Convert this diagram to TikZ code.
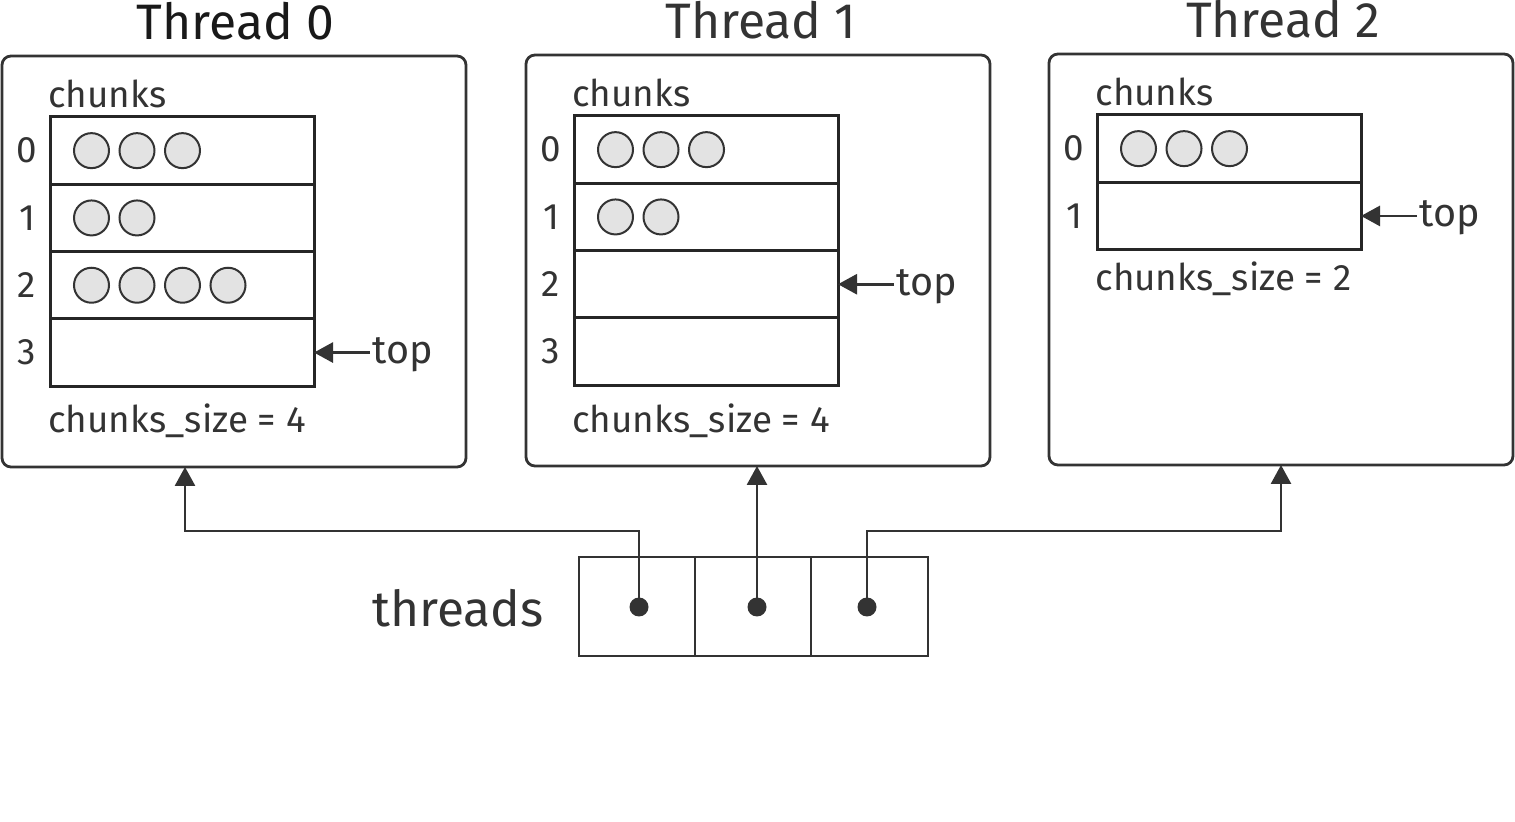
\documentclass[tikz,border=0pt]{standalone}
\usepackage{fontspec}
\setmainfont{Fira Sans}
\usetikzlibrary{arrows.meta,calc}
\definecolor{ink}{HTML}{333333}
\definecolor{ballgray}{HTML}{E3E3E3}
\begin{document}
\begin{tikzpicture}[x=0.5pt,y=-0.5pt,
  panel/.style={draw=ink, line width=1.4pt, rounded corners=4.5pt, minimum width=232pt, minimum height=205.5pt, inner sep=0pt, outer sep=0pt},
  cell/.style={draw=black!85, line width=1.5pt, minimum width=132pt, minimum height=33.65pt, anchor=north west, inner sep=0pt, outer sep=0pt},
  acell/.style={draw=ink, line width=1.4pt, minimum width=58pt, minimum height=49.5pt, anchor=north west, inner sep=0pt, outer sep=0pt},
  ball/.style={circle, draw=ink, fill=ballgray, line width=1pt, minimum size=17.5pt, inner sep=0pt},
  lbl/.style={font=\fontsize{18.4}{22}\selectfont, text=ink, inner sep=0pt},
  toplbl/.style={font=\fontsize{19.8}{24}\selectfont, text=ink, inner sep=0pt, anchor=base west},
  title/.style={font=\fontsize{24.9}{30}\selectfont, inner sep=0pt, anchor=base},
  ptr/.style={-{Triangle[length=9.5pt,width=10pt]}, draw=ink, line width=1.4pt},
  dot/.style={circle, fill=ink, minimum size=9.5pt, inner sep=0pt}]
\useasboundingbox (0,0) rectangle (1515,822);

% ---------------- Thread 0 ----------------
\node[title, text=black!90] (t0) at (235.5,40) {Thread 0};
\node[panel] (box0) at (234,261.5) {};
\node[cell] (a0) at (50,117) {};
\node[cell] (a1) at (a0.south west) {};
\node[cell] (a2) at (a1.south west) {};
\node[cell] (a3) at (a2.south west) {};
\node[lbl, anchor=base west] (a-ch) at ($(a0.north west)+(-2,-9)$) {chunks};
\node[lbl] (a-n0) at ($(a0.west)+(-23,0)$) {0};
\node[lbl] (a-n1) at ($(a1.west)+(-23,0)$) {1};
\node[lbl] (a-n2) at ($(a2.west)+(-23,0)$) {2};
\node[lbl] (a-n3) at ($(a3.west)+(-23,0)$) {3};
\foreach \k in {0,1,2}{\node[ball] (a0b\k) at ($(a0.west)+(41.5+45.5*\k,0)$) {};}
\foreach \k in {0,1}{\node[ball] (a1b\k) at ($(a1.west)+(41.5+45.5*\k,0)$) {};}
\foreach \k in {0,1,2,3}{\node[ball] (a2b\k) at ($(a2.west)+(41.5+45.5*\k,0)$) {};}
\coordinate (a-top) at ($(a3.east)+(56,0)$);
\draw[ptr] (a-top) -- (a3.east);
\node[toplbl] (a-toplbl) at ($(a-top)+(2,11)$) {top};
\node[lbl, anchor=base west] (a-size) at ($(a3.south west)+(-2,46)$) {chunks\_size = 4};

% ---------------- Thread 1 ----------------
\node[title, text=ink] (t1) at (761,39) {Thread 1};
\node[panel] (box1) at (758,260.5) {};
\node[cell] (b0) at (574,116) {};
\node[cell] (b1) at (b0.south west) {};
\node[cell] (b2) at (b1.south west) {};
\node[cell] (b3) at (b2.south west) {};
\node[lbl, anchor=base west] (b-ch) at ($(b0.north west)+(-2,-9)$) {chunks};
\node[lbl] (b-n0) at ($(b0.west)+(-23,0)$) {0};
\node[lbl] (b-n1) at ($(b1.west)+(-23,0)$) {1};
\node[lbl] (b-n2) at ($(b2.west)+(-23,0)$) {2};
\node[lbl] (b-n3) at ($(b3.west)+(-23,0)$) {3};
\foreach \k in {0,1,2}{\node[ball] (b0b\k) at ($(b0.west)+(41.5+45.5*\k,0)$) {};}
\foreach \k in {0,1}{\node[ball] (b1b\k) at ($(b1.west)+(41.5+45.5*\k,0)$) {};}
\coordinate (b-top) at ($(b2.east)+(56,0)$);
\draw[ptr] (b-top) -- (b2.east);
\node[toplbl] (b-toplbl) at ($(b-top)+(2,11)$) {top};
\node[lbl, anchor=base west] (b-size) at ($(b3.south west)+(-2,47)$) {chunks\_size = 4};

% ---------------- Thread 2 ----------------
\node[title, text=ink] (t2) at (1283,38) {Thread 2};
\node[panel] (box2) at (1281,259.5) {};
\node[cell] (c0) at (1097,115) {};
\node[cell] (c1) at (c0.south west) {};
\node[lbl, anchor=base west] (c-ch) at ($(c0.north west)+(-2,-9)$) {chunks};
\node[lbl] (c-n0) at ($(c0.west)+(-23,0)$) {0};
\node[lbl] (c-n1) at ($(c1.west)+(-23,0)$) {1};
\foreach \k in {0,1,2}{\node[ball] (c0b\k) at ($(c0.west)+(41.5+45.5*\k,0)$) {};}
\coordinate (c-top) at ($(c1.east)+(56,0)$);
\draw[ptr] (c-top) -- (c1.east);
\node[toplbl] (c-toplbl) at ($(c-top)+(2,11)$) {top};
\node[lbl, anchor=base west] (c-size) at ($(c1.south west)+(-2,41)$) {chunks\_size = 2};

% ---------------- threads array ----------------
\node[font=\fontsize{24.8}{30}\selectfont, text=ink, inner sep=0pt, anchor=base west] (thr) at (372,627) {threads};
\node[acell] (p0) at (579,557) {};
\node[acell] (p1) at (695,557) {};
\node[acell, minimum width=58.5pt] (p2) at (811,557) {};
\node[dot] (d0) at (639,607) {};
\node[dot] (d1) at (757,607) {};
\node[dot] (d2) at (867,607) {};

\coordinate (j0) at (185,531);
\coordinate (j2) at (1281,531);
\draw[ptr] (d0.center) |- (j0) -- (j0 |- box0.south);
\draw[ptr] (d1.center) -- (d1.center |- box1.south);
\draw[ptr] (d2.center) |- (j2) -- (j2 |- box2.south);
\end{tikzpicture}
\end{document}
